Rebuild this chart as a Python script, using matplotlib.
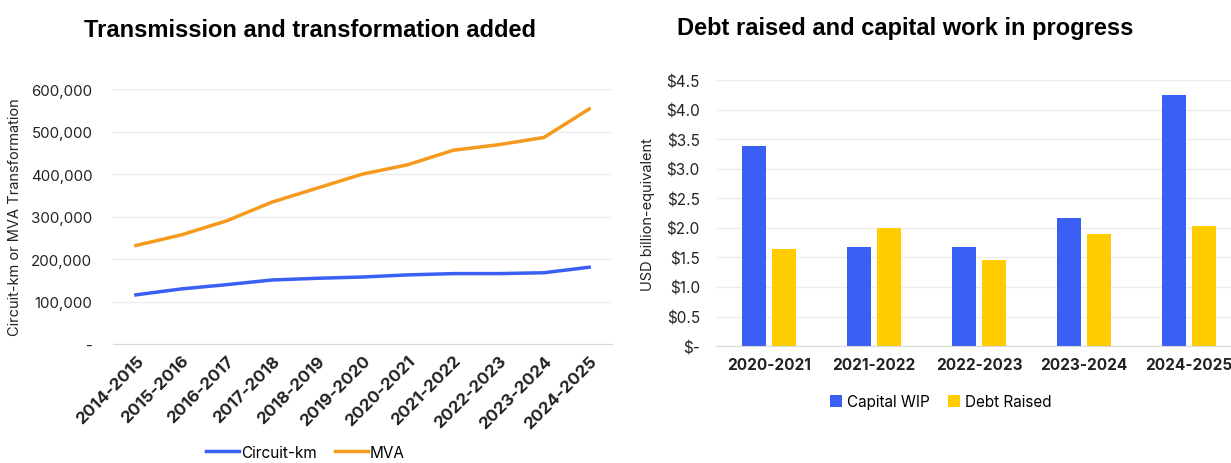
import matplotlib.pyplot as plt
import numpy as np
from matplotlib.ticker import FuncFormatter

plt.rcParams['font.family'] = ['Inter', 'DejaVu Sans']

years = ['2014-2015', '2015-2016', '2016-2017', '2017-2018', '2018-2019', '2019-2020',
         '2020-2021', '2021-2022', '2022-2023', '2023-2024', '2024-2025']
circuit_km = [116000, 130000, 140000, 151000, 155000, 158000, 163000, 166000, 166000, 168000, 181000]
mva = [232000, 257000, 290000, 334000, 367000, 400000, 422000, 456000, 469000, 486000, 553000]

bar_years = ['2020-2021', '2021-2022', '2022-2023', '2023-2024', '2024-2025']
capital_wip = [3.38, 1.68, 1.67, 2.17, 4.25]
debt_raised = [1.65, 1.99, 1.46, 1.89, 2.03]

blue = '#3A5FF5'
orange = '#F59A1C'
yellow = '#FFCC00'
grid = '#EDEDED'
txt = '#222222'
title_font = ['Liberation Sans', 'DejaVu Sans']

fig = plt.figure(figsize=(12.31, 4.64), dpi=100)

# left: line chart
ax1 = fig.add_axes([0.092, 0.256, 0.405, 0.550])
x = np.arange(len(years))
ax1.plot(x, circuit_km, color=blue, lw=2.5, label='Circuit-km')
ax1.plot(x, mva, color=orange, lw=2.5, label='MVA')
ax1.set_xlim(-0.5, len(years) - 0.5)
ax1.set_ylim(0, 600000)
ax1.set_yticks(np.arange(0, 600001, 100000))
ax1.yaxis.set_major_formatter(FuncFormatter(lambda v, p: '-' if v == 0 else f'{int(v):,}'))
ax1.set_xticks(x)
ax1.set_xticklabels(years, rotation=45, ha='right', rotation_mode='anchor',
                    fontweight='bold', fontsize=12.2, color=txt)
ax1.set_ylabel('Circuit-km or MVA Transformation', fontsize=10.5, color=txt, labelpad=6)
ax1.set_title('Transmission and transformation added', fontsize=17, fontweight='bold',
              pad=38, color='black', family=title_font, x=0.395)
ax1.grid(axis='y', color=grid, lw=1)
ax1.set_axisbelow(True)
for s in ['top', 'right', 'left']:
    ax1.spines[s].set_visible(False)
ax1.spines['bottom'].set_color('#D9D9D9')
ax1.tick_params(length=0)
ax1.tick_params(axis='y', labelsize=10.8, labelcolor=txt, pad=15)
ax1.tick_params(axis='x', pad=6)
ax1.legend(loc='upper center', bbox_to_anchor=(0.385, -0.34), ncol=2, frameon=False,
           fontsize=11, handlelength=2.2, handletextpad=0.1, columnspacing=1.2)

# right: bar chart
ax2 = fig.add_axes([0.582, 0.252, 0.4265, 0.573])
xb = np.arange(len(bar_years))
w = 0.225
ax2.bar(xb - 0.142, capital_wip, w, color=blue, label='Capital WIP')
ax2.bar(xb + 0.142, debt_raised, w, color=yellow, label='Debt Raised')
ax2.set_xlim(-0.5, len(bar_years) - 0.5)
ax2.set_ylim(0, 4.5)
ax2.set_yticks(np.arange(0, 4.51, 0.5))
ax2.yaxis.set_major_formatter(FuncFormatter(lambda v, p: '$-' if v == 0 else f'${v:.1f}'))
ax2.set_xticks(xb)
ax2.set_xticklabels(bar_years, fontweight='bold', fontsize=11.1, color=txt)
ax2.set_ylabel('USD billion-equivalent', fontsize=10.5, color=txt, labelpad=8)
ax2.set_title('Debt raised and capital work in progress', fontsize=17, fontweight='bold',
              pad=33, color='black', family=title_font, x=0.36)
ax2.grid(axis='y', color=grid, lw=1)
ax2.set_axisbelow(True)
for s in ['top', 'right', 'left']:
    ax2.spines[s].set_visible(False)
ax2.spines['bottom'].set_color('#D9D9D9')
ax2.tick_params(length=0)
ax2.tick_params(axis='y', labelsize=11, labelcolor=txt, pad=12)
ax2.tick_params(axis='x', pad=8)
ax2.legend(loc='upper center', bbox_to_anchor=(0.427, -0.13), ncol=2, frameon=False,
           fontsize=11, handlelength=0.8, handleheight=0.8, handletextpad=0.3, columnspacing=1.2)

fig.savefig('out.png', dpi=100)
